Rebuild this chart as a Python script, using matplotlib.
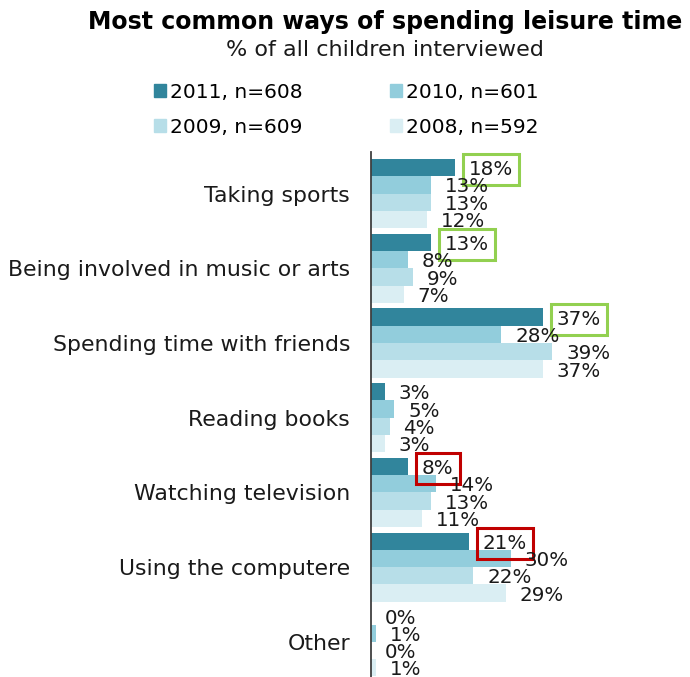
import numpy as np
import matplotlib.pyplot as plt
from matplotlib.patches import Patch

plt.rcParams['font.family'] = ['DejaVu Sans']

# data
categories = ['Taking sports', 'Being involved in music or arts',
              'Spending time with friends', 'Reading books',
              'Watching television', 'Using the computere', 'Other']
series = ['2011, n=608', '2010, n=601', '2009, n=609', '2008, n=592']
v2011 = [18, 13, 37, 3, 8, 21, 0]
v2010 = [13, 8, 28, 5, 14, 30, 1]
v2009 = [13, 9, 39, 4, 13, 22, 0]
v2008 = [12, 7, 37, 3, 11, 29, 1]
# boxes drawn round the 2011 labels
box_colors = ['#92d050', '#92d050', '#92d050', None, '#c00000', '#c00000', None]

colors = ['#31859c', '#92cddc', '#b7dee8', '#daeef3']
values = [v2011, v2010, v2009, v2008]

fig = plt.figure(figsize=(6.9, 6.77), dpi=100)
ax = fig.add_axes([371 / 690, 0, 319 / 690, 525 / 677])

h = 0.2316
y = np.arange(len(categories))
for j, vals in enumerate(values):
    ys = y + (j - 1.5) * h
    ax.barh(ys, vals, height=h, color=colors[j], edgecolor='none')
    for i, (v, yy) in enumerate(zip(vals, ys)):
        bbox = None
        if j == 0 and box_colors[i]:
            bbox = dict(boxstyle='square,pad=0.3', fc='none',
                        ec=box_colors[i], lw=2.2)
        ax.annotate(f'{v}%', xy=(v, yy), xytext=(10, -1.5),
                    textcoords='offset points', ha='left', va='center',
                    fontsize=14.3, color='#1a1a1a', bbox=bbox)

ax.set_xlim(0, 319 / 4.65)
ax.set_ylim(6.47, -0.556)
ax.set_xticks([])
ax.set_yticks(y)
ax.set_yticklabels(categories, fontsize=15.8, color='#1a1a1a')
ax.tick_params(axis='y', length=0, pad=15)
for s in ['top', 'right', 'bottom']:
    ax.spines[s].set_visible(False)
ax.spines['left'].set_color('#404040')
ax.spines['left'].set_linewidth(1.3)

fig.text(0.558, 0.967, 'Most common ways of spending leisure time',
         ha='center', va='center', fontsize=17, fontweight='bold')
fig.text(0.558, 0.926, '% of all children interviewed',
         ha='center', va='center', fontsize=16, color='#1a1a1a')

handles = [Patch(color=c) for c in colors]
order = [0, 2, 1, 3]
fig.legend([handles[k] for k in order], [series[k] for k in order],
           loc='center', bbox_to_anchor=(0.502, 0.838), ncol=2,
           frameon=False, fontsize=14.5, handlelength=0.6, handleheight=0.6,
           handletextpad=0.2, columnspacing=4.3, labelspacing=0.78)

fig.savefig('out.png', dpi=100)
